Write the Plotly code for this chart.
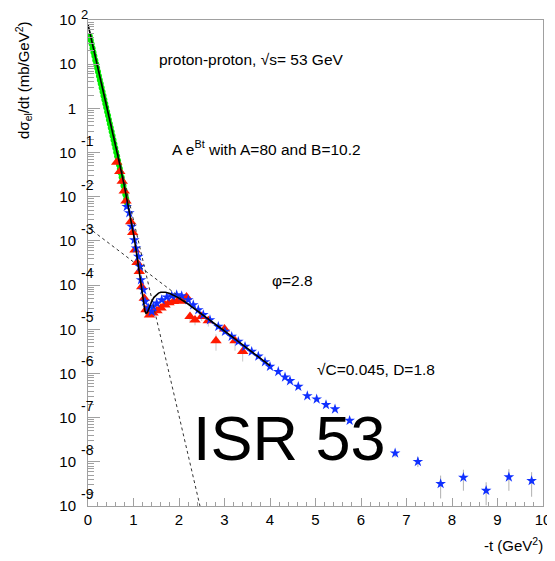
import plotly.graph_objects as go

# ---------------- data ----------------
green_t = [0.04, 0.06, 0.08, 0.10, 0.12, 0.14, 0.16, 0.18, 0.20, 0.22, 0.24, 0.26, 0.28, 0.30,
           0.32, 0.34, 0.36, 0.38, 0.40, 0.42, 0.44, 0.46, 0.48, 0.50, 0.52, 0.54, 0.56, 0.58,
           0.60, 0.62, 0.64, 0.66, 0.68, 0.70, 0.72, 0.74, 0.76, 0.78, 0.80, 0.82, 0.84, 0.86]
green_y = [43, 35, 28.5, 23, 18.6, 15.3, 12.3, 10.1, 8.2, 6.7, 5.4, 4.4, 3.6, 2.92,
           2.38, 1.92, 1.57, 1.27, 1.04, 0.84, 0.685, 0.555, 0.45, 0.365, 0.295, 0.24, 0.193, 0.157,
           0.126, 0.102, 0.082, 0.066, 0.053, 0.043, 0.0345, 0.0277, 0.0222, 0.0177, 0.0142, 0.0113, 0.0090, 0.0072]

red_t = [0.631, 0.699, 0.752, 0.796, 0.835, 0.938, 0.982, 1.033, 1.077, 1.127, 1.180, 1.237,
         1.275, 1.352, 1.429, 1.516, 1.604, 1.692, 1.780, 1.879, 1.978, 2.077, 2.165,
         2.242, 2.352, 2.499, 2.644, 2.813, 3.000, 3.231, 3.400]
red_y = [6.0e-2, 3.73e-2, 2.24e-2, 1.34e-2, 8.0e-3, 2.73e-3, 1.54e-3, 6.25e-4, 3.23e-4, 2.02e-4, 9.2e-5, 5.05e-5,
         2.75e-5, 2.1e-5, 2.35e-5, 2.61e-5, 3.05e-5, 3.56e-5, 3.96e-5, 4.24e-5, 4.46e-5, 4.28e-5, 5.41e-5,
         1.94e-5, 1.63e-5, 1.94e-5, 1.55e-5, 5.47e-6, 1.02e-5, 5.47e-6, 3.16e-6]
red_err = [3e-3, 2e-3, 1e-3, 6e-4, 4e-4, 1.4e-4, 8e-5, 3e-5, 1.6e-5, 1e-5, 5e-6, 3e-6,
           2e-6, 2e-6, 2e-6, 2e-6, 2e-6, 2e-6, 2e-6, 2e-6, 2e-6, 2e-6, 4e-6,
           5e-6, 4e-6, 4e-6, 4e-6, 2.2e-6, 2.5e-6, 2.2e-6, 1.3e-6]

blue_t = [0.851, 0.908, 0.960, 1.018, 1.055, 1.105, 1.143, 1.165, 1.215, 1.253, 1.325, 1.400,
          1.435, 1.510, 1.620, 1.730, 1.840, 1.949, 2.059, 2.204, 2.314, 2.424, 2.534, 2.681,
          2.864, 3.011, 3.158, 3.303, 3.451, 3.598, 3.743, 3.890, 4.000, 4.182, 4.330, 4.440,
          4.622, 4.820, 5.026, 5.231, 5.429, 5.75, 6.75, 7.25, 7.75, 8.25, 8.75, 9.25, 9.75]
blue_y = [5.97e-3, 4.30e-3, 2.11e-3, 1.05e-3, 6.84e-4, 4.42e-4, 2.62e-4, 1.31e-4, 7.79e-5, 4.24e-5, 3.0e-5, 2.51e-5,
          3.26e-5, 3.89e-5, 4.62e-5, 5.32e-5, 5.70e-5, 6.0e-5, 5.70e-5, 4.62e-5, 3.56e-5, 2.75e-5, 2.12e-5, 1.63e-5,
          1.15e-5, 8.87e-6, 6.84e-6, 5.27e-6, 4.06e-6, 3.13e-6, 2.44e-6, 1.83e-6, 1.43e-6, 1.10e-6, 8.24e-7, 6.80e-7,
          5.06e-7, 3.11e-7, 2.62e-7, 1.95e-7, 1.56e-7, 8.6e-8, 1.57e-8, 1.01e-8, 3.18e-9, 4.42e-9, 2.24e-9, 4.51e-9, 3.72e-9]
blue_err = [3e-4, 2e-4, 1e-4, 5e-5, 3e-5, 2e-5, 1.2e-5, 6e-6, 4e-6, 2e-6, 1.5e-6, 1.2e-6,
            1.5e-6, 1.8e-6, 2e-6, 2.4e-6, 2.5e-6, 2.6e-6, 2.5e-6, 2e-6, 1.6e-6, 1.2e-6, 1e-6, 8e-7,
            5e-7, 4e-7, 3e-7, 2.5e-7, 2e-7, 1.5e-7, 1.2e-7, 9e-8, 7e-8, 6e-8, 5e-8, 4e-8,
            3e-8, 3e-8, 2.5e-8, 2e-8, 1.6e-8, 1e-8, 3e-9, 2.5e-9, 1.7e-9, 2.2e-9, 1.2e-9, 2.3e-9, 2.1e-9]

fit_t = [0.0, 0.1, 0.2, 0.3, 0.4, 0.5, 0.6, 0.7, 0.8, 0.9, 0.95, 1.0, 1.05, 1.1, 1.15, 1.2, 1.225,
         1.25, 1.275, 1.3, 1.325, 1.35, 1.4, 1.45, 1.5, 1.55, 1.6, 1.7, 1.8, 1.9, 2.0, 2.2, 2.4,
         2.6, 2.8, 3.0, 3.2, 3.4, 3.6, 3.8, 4.0]
fit_y = [79.24, 28.43, 10.17, 3.627, 1.285, 0.4508, 0.1559, 0.05262, 0.01711, 0.005223, 2.780e-3,
         1.4281e-3, 6.986e-4, 3.200e-4, 1.350e-4, 5.391e-5, 3.545e-5, 2.612e-5, 2.286e-5, 2.371e-5,
         2.703e-5, 3.176e-5, 4.265e-5, 5.274e-5, 6.061e-5, 6.592e-5, 6.884e-5, 6.911e-5, 6.469e-5,
         5.806e-5, 5.078e-5, 3.721e-5, 2.651e-5, 1.866e-5, 1.3071e-5, 9.134e-6, 6.378e-6, 4.451e-6,
         3.106e-6, 2.167e-6, 1.512e-6]

steep_t = [0.0, 2.5]
steep_y = [80.0, 6.7e-10]
shallow_t = [0.0, 4.0]
shallow_y = [2.025e-3, 1.512e-6]

x_ticks = [0, 1, 2, 3, 4, 5, 6, 7, 8, 9, 10]
y_tickvals = [1e-9, 1e-8, 1e-7, 1e-6, 1e-5, 1e-4, 1e-3, 1e-2, 1e-1, 1, 10, 100]
y_ticktext = ["10", "10", "10", "10", "10", "10", "10", "10", "10", "1", "10", "10"]
y_exponents = [-9, -8, -7, -6, -5, -4, -3, -2, -1, 2]

# ---------------- figure ----------------
FONT = "Liberation Sans, Arial, Helvetica, sans-serif"
AXC = "#a0a0a0"

fig = go.Figure()

fig.add_trace(go.Scatter(x=green_t, y=green_y, mode="markers",
                         marker=dict(symbol="circle", size=6, color="#00ee00"),
                         showlegend=False))
fig.add_trace(go.Scatter(x=red_t, y=red_y, mode="markers",
                         error_y=dict(type="data", array=red_err, color="#c8c8c8", thickness=1, width=0),
                         marker=dict(symbol="triangle-up", size=10, color="#ff1a00"),
                         showlegend=False))
fig.add_trace(go.Scatter(x=blue_t, y=blue_y, mode="markers",
                         error_y=dict(type="data", array=blue_err, color="#b0b0b0", thickness=1, width=0),
                         marker=dict(symbol="star", size=8, color="#1030ff", line=dict(width=0)),
                         showlegend=False))
fig.add_trace(go.Scatter(x=steep_t, y=steep_y, mode="lines",
                         line=dict(color="#333333", width=1, dash="3px,3px"), showlegend=False))
fig.add_trace(go.Scatter(x=shallow_t, y=shallow_y, mode="lines",
                         line=dict(color="#333333", width=1, dash="3px,3px"), showlegend=False))
fig.add_trace(go.Scatter(x=fit_t, y=fit_y, mode="lines",
                         line=dict(color="black", width=1.6), showlegend=False))

annotations = []
for k in y_exponents:
    annotations.append(dict(x=-0.02, xref="paper", y=k, yref="y", yshift=(6 if k == 2 else 12),
                            text=str(k), showarrow=False, xanchor="left", yanchor="middle",
                            font=dict(family=FONT, size=14 if k != 2 else 13, color="black")))

texts = [
    dict(x=1.516, y=1.095, text="proton-proton, √s= 53 GeV", size=15.5, xanchor="left"),
    dict(x=1.80, y=-0.896, text="A e<sup>Bt</sup> with A=80 and B=10.2", size=15.5, xanchor="left"),
    dict(x=4.0, y=-3.898, text="φ=2.8", size=15.5, xanchor="left"),
    dict(x=4.989, y=-5.903, text="√C=0.045, D=1.8", size=15.5, xanchor="left"),
    dict(x=4.418, y=-7.457, text="ISR 53", size=63, xanchor="center"),
]
for t in texts:
    annotations.append(dict(x=t["x"], y=t["y"], xref="x", yref="y", text=t["text"], showarrow=False,
                            xanchor=t["xanchor"], yanchor="middle",
                            font=dict(family=FONT, size=t["size"], color="black")))

annotations.append(dict(x=-0.143, y=0.8765, xref="paper", yref="paper", textangle=-90,
                        text="dσ<sub>el</sub>/dt (mb/GeV<sup>2</sup>)", showarrow=False,
                        xanchor="center", yanchor="middle",
                        font=dict(family=FONT, size=15, color="black")))
annotations.append(dict(x=1.0044, y=-0.0802, xref="paper", yref="paper",
                        text="-t (GeV<sup>2</sup>)", showarrow=False,
                        xanchor="right", yanchor="middle",
                        font=dict(family=FONT, size=15, color="black")))

# page body adds an 8px offset, so the figure is 8px smaller and margins compensate
fig.update_layout(
    width=547, height=553,
    margin=dict(l=80, r=12, t=12, b=55, autoexpand=False),
    paper_bgcolor="white", plot_bgcolor="white",
    font=dict(family=FONT, size=15, color="black"),
    annotations=annotations,
    showlegend=False,
)
fig.update_xaxes(range=[0, 10], tickmode="array", tickvals=x_ticks, automargin=False,
                 ticks="inside", ticklen=8, tickcolor=AXC, showline=True, linecolor=AXC,
                 linewidth=1, mirror=True, showgrid=False, zeroline=False,
                 tickfont=dict(family=FONT, size=15, color="black"),
                 minor=dict(dtick=0.2, ticks="inside", ticklen=4, tickcolor=AXC, showgrid=False))
fig.update_yaxes(type="log", range=[-9, 2], tickmode="array", tickvals=y_tickvals, ticktext=y_ticktext,
                 automargin=False,
                 ticks="inside", ticklen=12, tickcolor=AXC, showline=True, linecolor=AXC,
                 linewidth=1, mirror=True, showgrid=False, zeroline=False,
                 ticklabelstandoff=8,
                 tickfont=dict(family=FONT, size=15, color="black"),
                 minor=dict(dtick="D1", ticks="inside", ticklen=6, tickcolor=AXC, showgrid=False))

fig.write_html("out.html")
